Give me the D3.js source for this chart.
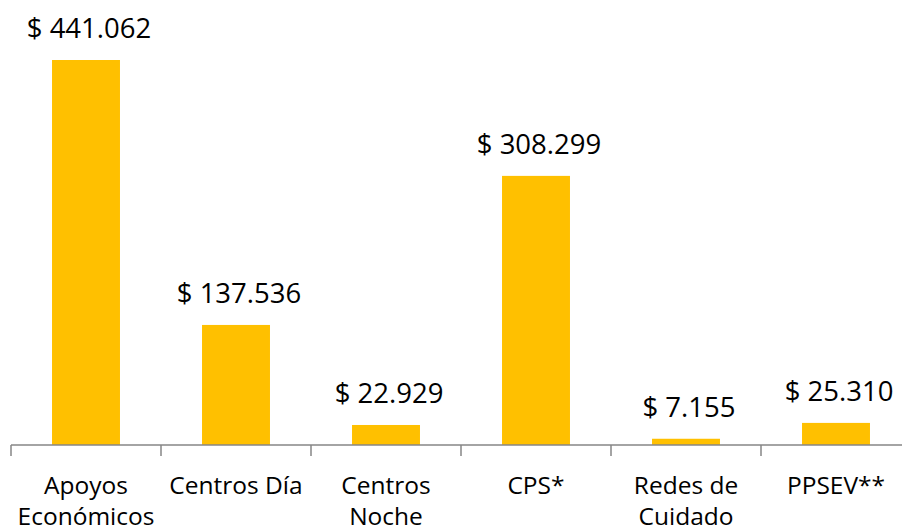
<!DOCTYPE html>
<html>
<head>
<meta charset="utf-8">
<script src="https://cdn.jsdelivr.net/npm/d3@7"></script>
<style>
  body { margin: 0; background: #fff; }
  text { font-family: "Open Sans", sans-serif; fill: #000; }
</style>
</head>
<body>
<script>
// data
var categories = ["Apoyos Económicos", "Centros Día", "Centros Noche", "CPS*", "Redes de Cuidado", "PPSEV**"];
var categoryLines = [["Apoyos", "Económicos"], ["Centros Día"], ["Centros", "Noche"], ["CPS*"], ["Redes de", "Cuidado"], ["PPSEV**"]];
var values = [441062, 137536, 22929, 308299, 7155, 25310];
var valueLabels = ["$ 441.062", "$ 137.536", "$ 22.929", "$ 308.299", "$ 7.155", "$ 25.310"];

var width = 902, height = 531;
var x0 = 11, bandW = 150, baseY = 445;

var svg = d3.select("body").append("svg")
    .attr("width", width)
    .attr("height", height);

var x = d3.scaleBand()
    .domain(categories)
    .range([x0, x0 + bandW * categories.length])
    .paddingInner(0.547)
    .paddingOuter(0.2735);

var y = d3.scaleLinear()
    .domain([0, 441062])
    .range([baseY, 60]);

// bars
svg.selectAll(".bar")
    .data(values)
    .enter()
    .append("rect")
    .attr("class", "bar")
    .attr("x", function(d, i) { return x(categories[i]); })
    .attr("y", function(d) { return y(d); })
    .attr("width", x.bandwidth())
    .attr("height", function(d) { return baseY - y(d); })
    .attr("fill", "#FFC000");

// axis line + ticks between categories
var ax = svg.append("g");
ax.append("line")
    .attr("x1", x0).attr("x2", width)
    .attr("y1", baseY).attr("y2", baseY)
    .attr("stroke", "#868686").attr("stroke-width", 1.5);
for (let i = 0; i <= categories.length; i++) {
    var tx = x0 + i * bandW;
    ax.append("line")
        .attr("x1", tx).attr("x2", tx)
        .attr("y1", baseY).attr("y2", baseY + 11)
        .attr("stroke", "#868686").attr("stroke-width", 1.5);
}

// value labels
svg.selectAll(".vlabel")
    .data(values)
    .enter()
    .append("text")
    .attr("class", "vlabel")
    .attr("x", function(d, i) { return x(categories[i]) + x.bandwidth() / 2 + 3; })
    .attr("y", function(d) { return y(d) - 22; })
    .attr("text-anchor", "middle")
    .attr("font-size", "27.5px")
    .text(function(d, i) { return valueLabels[i]; });

// category labels
categoryLines.forEach(function(lines, i) {
    var t = svg.append("text")
        .attr("text-anchor", "middle")
        .attr("font-size", "24.5px")
        .attr("x", x(categories[i]) + x.bandwidth() / 2)
        .attr("y", 494);
    lines.forEach(function(l, j) {
        t.append("tspan")
            .attr("x", x(categories[i]) + x.bandwidth() / 2)
            .attr("dy", j === 0 ? 0 : 31)
            .text(l);
    });
});
</script>
</body>
</html>
